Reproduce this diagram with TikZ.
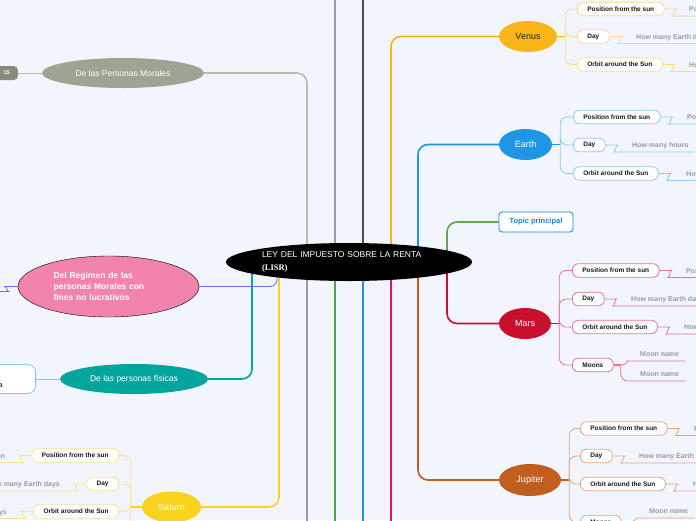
\documentclass[tikz,border=0pt]{standalone}
\usepackage{fontspec}
\setmainfont{Liberation Sans}
\newfontfamily\lisrfont{Liberation Serif}
\usetikzlibrary{shapes.geometric}

\definecolor{paper}{RGB}{242,245,254}
\definecolor{moralesc}{RGB}{158,164,147}
\definecolor{moralesl}{RGB}{184,189,175}
\definecolor{grayc}{RGB}{155,155,160}
\definecolor{darkc}{RGB}{75,75,80}
\definecolor{venusc}{RGB}{251,181,22}
\definecolor{venusl}{RGB}{252,216,145}
\definecolor{earthc}{RGB}{31,149,230}
\definecolor{earthl}{RGB}{142,203,242}
\definecolor{topicc}{RGB}{91,168,74}
\definecolor{topicb}{RGB}{26,128,224}
\definecolor{marsc}{RGB}{200,16,46}
\definecolor{marsl}{RGB}{226,120,143}
\definecolor{jupiterc}{RGB}{192,94,32}
\definecolor{jupiterl}{RGB}{228,168,130}
\definecolor{saturnc}{RGB}{250,211,30}
\definecolor{saturnl}{RGB}{251,228,138}
\definecolor{crimsonc}{RGB}{227,20,94}
\definecolor{greenc}{RGB}{76,168,67}
\definecolor{tealc}{RGB}{0,165,158}
\definecolor{teall}{RGB}{127,208,204}
\definecolor{regimenc}{RGB}{242,131,173}
\definecolor{regimenl}{RGB}{111,111,240}
\definecolor{leafc}{RGB}{154,154,164}

\pgfdeclarelayer{paperlayer}
\pgfdeclarelayer{linklayer}
\pgfsetlayers{paperlayer,linklayer,main}

\begin{document}
\begin{tikzpicture}[x=1pt,y=-1pt,
		stem/.style={draw=#1,line width=2pt},
		branch/.style={draw=#1,line width=1.6pt,rounded corners=10pt},
		twig/.style={draw=#1,line width=0.8pt,rounded corners=7pt},
		bigtopic/.style={ellipse,fill=#1,text=white,inner sep=0pt,font=\fontsize{8.5}{10}\selectfont},
		planet/.style={ellipse,fill=#1,text=white,inner sep=0pt,minimum height=31pt,font=\fontsize{9}{10}\selectfont},
		sub/.style={draw=#1,fill=white,line width=0.8pt,rounded corners=6pt,inner xsep=10pt,inner ysep=0pt,minimum height=13.5pt,text=black!90,font=\bfseries\fontsize{6.5}{7}\selectfont},
		leaf/.style={text=leafc,inner xsep=6pt,inner ysep=2pt,text height=5pt,text depth=2pt,font=\bfseries\fontsize{7}{8}\selectfont}]
	
	\useasboundingbox (0,0) rectangle (696,520);
	\begin{pgfonlayer}{paperlayer}
		\fill[paper] (0,0) rectangle (696,520);
	\end{pgfonlayer}
	
	% centre
	\node[ellipse,fill=black,text=white,inner sep=0pt,minimum width=246pt,minimum height=38pt,
		text width=174pt,align=left,font=\fontsize{8.5}{12.5}\selectfont] (lisr) at (349,262)
		{LEY DEL IMPUESTO SOBRE LA RENTA\\{\lisrfont\bfseries (LISR)}};
	
	% left side
	\node[bigtopic=moralesc,minimum width=162pt,minimum height=30pt] (morales) at (123,73) {De las Personas Morales};
	\node[anchor=east,fill=moralesc!85!black,rounded corners=4pt,text=white,inner xsep=8pt,
		minimum height=14pt,text width=30pt,align=right,font=\bfseries\fontsize{5.5}{6}\selectfont] (art15) at (18,73) {15};
	
	\node[ellipse,draw=black,fill=regimenc,text=white,inner sep=0pt,minimum width=181pt,minimum height=61pt,
		text width=110pt,align=left,font=\bfseries\fontsize{8.5}{11}\selectfont] (regimen) at (108.5,286.5)
		{Del Regimen de las\\personas Morales con\\fines no lucrativos};
	
	\node[bigtopic=tealc,minimum width=148pt,minimum height=30pt] (fisicas) at (134,379) {De las personas físicas};
	\node[anchor=east,draw=teall,fill=white,line width=0.8pt,rounded corners=8pt,minimum width=80pt,minimum height=29pt] (fisbox) at (36,379) {};
	\node[anchor=base east,inner sep=0pt,font=\fontsize{7}{8}\selectfont] (fistext) at (3,387) {a};
	
	\node[planet=saturnc,minimum width=59pt] (saturn) at (171.5,507) {Saturn};
	\node[sub=saturnl,anchor=east] (saturn-pos) at (119,455.5) {Position from the sun};
	\node[sub=saturnl,anchor=east] (saturn-day) at (119,484) {Day};
	\node[sub=saturnl,anchor=east] (saturn-orb) at (119,511.5) {Orbit around the Sun};
	\node[leaf,anchor=south east] (saturn-pos-l) at (11,462.5) {Position};
	\node[leaf,anchor=south east] (saturn-day-l) at (66,491) {How many Earth days};
	\node[leaf,anchor=south east] (saturn-orb-l) at (13,518.5) {How many Earth days};
	
	% right side
	\node[planet=venusc,minimum width=58pt,text=black!85] (venus) at (528,36.5) {Venus};
	\node[sub=venusl,anchor=west] (venus-pos) at (577,9) {Position from the sun};
	\node[sub=venusl,anchor=west] (venus-day) at (577,36.5) {Day};
	\node[sub=venusl,anchor=west] (venus-orb) at (577,64.5) {Orbit around the Sun};
	\node[leaf,anchor=south west] (venus-pos-l) at (683,16) {Position};
	\node[leaf,anchor=south west] (venus-day-l) at (630,43.5) {How many Earth days};
	\node[leaf,anchor=south west] (venus-orb-l) at (683,71.5) {How};
	
	\node[planet=earthc,minimum width=53pt] (earth) at (525.5,144.5) {Earth};
	\node[sub=earthl,anchor=west] (earth-pos) at (573,117) {Position from the sun};
	\node[sub=earthl,anchor=west] (earth-day) at (573,145) {Day};
	\node[sub=earthl,anchor=west] (earth-orb) at (573,173.5) {Orbit around the Sun};
	\node[leaf,anchor=south west] (earth-pos-l) at (681,124) {Position};
	\node[leaf,anchor=south west] (earth-day-l) at (626,152) {How many hours};
	\node[leaf,anchor=south west] (earth-orb-l) at (680,180.5) {How};
	
	\node[draw=topicb,fill=white,line width=0.8pt,rounded corners=3pt,minimum width=74pt,minimum height=20pt,
		text=topicb,font=\bfseries\fontsize{7.5}{8}\selectfont] (principal) at (536,222) {Topic principal};
	
	\node[planet=marsc,minimum width=52pt] (mars) at (525,323.5) {Mars};
	\node[sub=marsl,anchor=west] (mars-pos) at (572,270.5) {Position from the sun};
	\node[sub=marsl,anchor=west] (mars-day) at (572,299) {Day};
	\node[sub=marsl,anchor=west] (mars-orb) at (572,327) {Orbit around the Sun};
	\node[sub=marsl,anchor=west] (mars-moons) at (572,365) {Moons};
	\node[leaf,anchor=south west] (mars-pos-l) at (680,277.5) {Position};
	\node[leaf,anchor=south west] (mars-day-l) at (625,306) {How many Earth days};
	\node[leaf,anchor=south west] (mars-orb-l) at (678,334) {How};
	\node[leaf,anchor=south west] (mars-moon1) at (634,361) {Moon name};
	\node[leaf,anchor=south west] (mars-moon2) at (634,381) {Moon name};
	
	\node[planet=jupiterc,minimum width=62pt,minimum height=32pt] (jupiter) at (530,480) {Jupiter};
	\node[sub=jupiterl,anchor=west] (jupiter-pos) at (580,428.5) {Position from the sun};
	\node[sub=jupiterl,anchor=west] (jupiter-day) at (580,456) {Day};
	\node[sub=jupiterl,anchor=west] (jupiter-orb) at (580,484) {Orbit around the Sun};
	\node[sub=jupiterl,anchor=west] (jupiter-moons) at (580,522) {Moons};
	\node[leaf,anchor=south west] (jupiter-pos-l) at (688,435.5) {Position};
	\node[leaf,anchor=south west] (jupiter-day-l) at (633,463) {How many Earth days};
	\node[leaf,anchor=south west] (jupiter-orb-l) at (687,491) {How};
	\node[leaf,anchor=south west] (jupiter-moon1) at (643,518) {Moon name};
	
	\begin{pgfonlayer}{linklayer}
		% branches running off the picture
		\draw[stem=grayc] (lisr.center) ++(-14,0) -- ++(0,-270);
		\draw[stem=darkc] (lisr.center) ++(14,0) -- ++(0,-270);
		\draw[stem=grayc] (lisr.center) ++(-42,0) -- ++(0,270);
		\draw[stem=greenc] (lisr.center) ++(-14,0) -- ++(0,270);
		\draw[stem=earthc] (lisr.center) ++(14,0) -- ++(0,270);
		\draw[stem=crimsonc] (lisr.center) ++(42,0) -- ++(0,270);
		
		\draw[branch=moralesl] (lisr.center) ++(-42,0) |- (morales.east);
		\draw[branch=venusc] (lisr.center) ++(42,0) |- (venus.west);
		\draw[branch=earthc] (lisr.center) ++(69,0) |- (earth.west);
		\draw[branch=topicc] (lisr.center) ++(98,0) |- (principal.west);
		\draw[branch=marsc] (lisr.center) ++(98,0) |- (mars.west);
		\draw[branch=jupiterc] (lisr.center) ++(69,0) |- (jupiter.west);
		\draw[branch=saturnc] (lisr.center) ++(-70,0) |- (saturn.east);
		\draw[branch=tealc] (lisr.center) ++(-97,0) |- (fisicas.east);
		\draw[twig=regimenl] (lisr.center) ++(-72,0) |- (regimen.east);
		
		\draw[twig=moralesl] (morales.west) -- (art15.east);
		\draw[twig=teall] (fisicas.west) -- (fisbox.east);
		\draw[twig=regimenl] (regimen.west) -- ++(-6,0) to[out=180,in=0] ++(-10,5) -- ++(-10,0);
		
		% planets
		\draw[line width=1.2pt,venusc] (venus.east) -- ++(8,0) coordinate (venus-j);
		\draw[line width=1.2pt,earthc] (earth.east) -- ++(8,0) coordinate (earth-j);
		\draw[line width=1.2pt,marsc] (mars.east) -- ++(8,0) coordinate (mars-j);
		\draw[line width=1.2pt,jupiterc] (jupiter.east) -- ++(8,0) coordinate (jupiter-j);
		\draw[line width=1.2pt,saturnc] (saturn.west) -- ++(-11,0) coordinate (saturn-j);
		
		\foreach \s in {pos,day,orb}{
			\draw[twig=venusl] (venus-j) |- (venus-\s.west);
			\draw[twig=venusl] (venus-\s.east) -- ++(5,0) to[out=0,in=180] ++(10,7) -- (venus-\s-l.south east);
			\draw[twig=earthl] (earth-j) |- (earth-\s.west);
			\draw[twig=earthl] (earth-\s.east) -- ++(5,0) to[out=0,in=180] ++(10,7) -- (earth-\s-l.south east);
			\draw[twig=marsl] (mars-j) |- (mars-\s.west);
			\draw[twig=marsl] (mars-\s.east) -- ++(5,0) to[out=0,in=180] ++(10,7) -- (mars-\s-l.south east);
			\draw[twig=jupiterl] (jupiter-j) |- (jupiter-\s.west);
			\draw[twig=jupiterl] (jupiter-\s.east) -- ++(5,0) to[out=0,in=180] ++(10,7) -- (jupiter-\s-l.south east);
			\draw[twig=saturnl] (saturn-j) |- (saturn-\s.east);
			\draw[twig=saturnl] (saturn-\s.west) -- ++(-5,0) to[out=180,in=0] ++(-10,7) -- (saturn-\s-l.south west);
		}
		\draw[twig=saturnl] (saturn-j) -- ++(0,30);
		
		\draw[twig=marsl] (mars-j) |- (mars-moons.west);
		\draw[line width=1.2pt,marsl] (mars-moons.east) -- ++(7,0) coordinate (mars-mj);
		\draw[twig=marsl] (mars-mj) to[out=0,in=180] (mars-moon1.south west) -- (mars-moon1.south east);
		\draw[twig=marsl] (mars-mj) |- (mars-moon2.south west) -- (mars-moon2.south east);
		
		\draw[twig=jupiterl] (jupiter-j) |- (jupiter-moons.west);
		\draw[line width=1.2pt,jupiterl] (jupiter-moons.east) -- ++(7,0) coordinate (jupiter-mj);
		\draw[twig=jupiterl] (jupiter-mj) to[out=0,in=180] (jupiter-moon1.south west) -- (jupiter-moon1.south east);
	\end{pgfonlayer}
\end{tikzpicture}
\end{document}
